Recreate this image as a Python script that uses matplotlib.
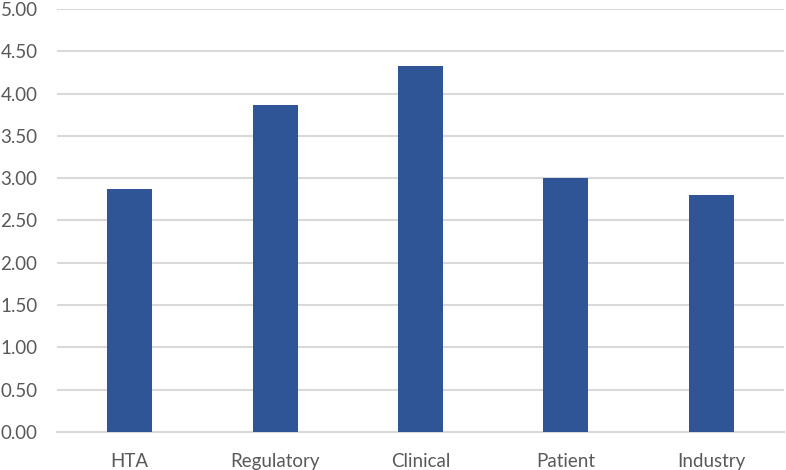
import matplotlib.pyplot as plt
import numpy as np

groups = ["HTA", "Regulatory", "Clinical", "Patient", "Industry"]
scores = [2.87, 3.87, 4.33, 3.00, 2.80]
y_ticks = [0, 0.5, 1.0, 1.5, 2.0, 2.5, 3.0, 3.5, 4.0, 4.5, 5.0]

plt.rcParams["font.family"] = ["Lato", "DejaVu Sans"]

fig = plt.figure(figsize=(7.86, 4.70), dpi=100)
ax = fig.add_axes([0.0725, 0.081, 0.925, 0.9])

x = np.arange(len(groups))
ax.bar(x, scores, width=0.31, color="#2f5597", zorder=3)

ax.set_xlim(-0.5, len(groups) - 0.5)
ax.set_ylim(0, 5)
ax.set_yticks(y_ticks)
ax.set_yticklabels([f"{v:.2f}" for v in y_ticks])
ax.set_xticks(x)
ax.set_xticklabels(groups)

ax.grid(axis="y", color="#d9d9d9", linewidth=1.5, zorder=0)
for side in ["top", "right", "left"]:
    ax.spines[side].set_visible(False)
ax.spines["bottom"].set_color("#d9d9d9")
ax.spines["bottom"].set_linewidth(1.5)
ax.tick_params(axis="both", length=0, labelsize=13.5, colors="#595959")
ax.tick_params(axis="x", pad=15)
ax.tick_params(axis="y", pad=14)

fig.savefig("out.png", dpi=100)
